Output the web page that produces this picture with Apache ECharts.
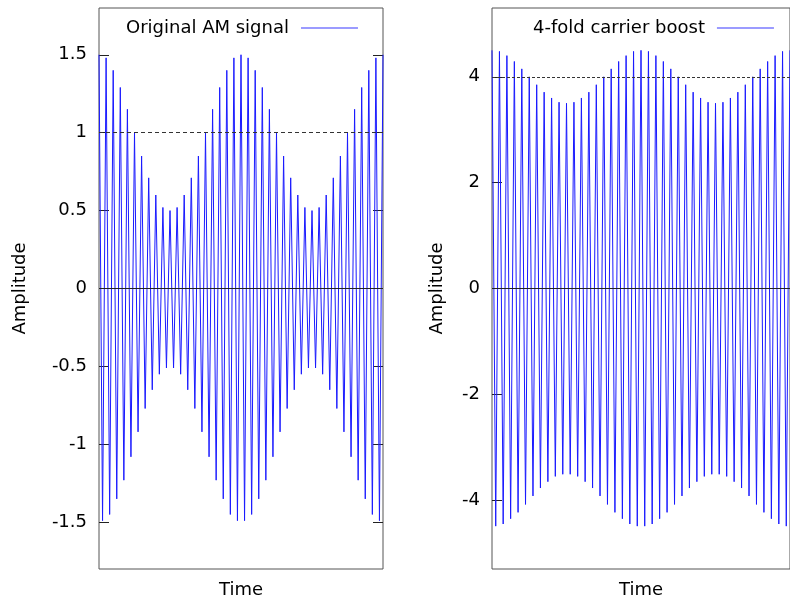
<!DOCTYPE html>
<html>
<head>
<meta charset="utf-8">
<script src="https://cdn.jsdelivr.net/npm/echarts@6/dist/echarts.min.js"></script>
<style>
  html, body { margin: 0; padding: 0; background: #fff; }
  #chart { width: 790px; height: 604px; }
</style>
</head>
<body>
<div id="chart"></div>
<script>
// Successive carrier extremes (peak, trough, peak, ...)
const amSignal = [
  1.50, -1.49, 1.48, -1.45, 1.40, -1.35, 1.29, -1.23, 1.15, -1.08,
  1.00, -0.92, 0.85, -0.77, 0.71, -0.65, 0.60, -0.55, 0.52, -0.51,
  0.50, -0.51, 0.52, -0.55, 0.60, -0.65, 0.71, -0.77, 0.85, -0.92,
  1.00, -1.08, 1.15, -1.23, 1.29, -1.35, 1.40, -1.45, 1.48, -1.49,
  1.50, -1.49, 1.48, -1.45, 1.40, -1.35, 1.29, -1.23, 1.15, -1.08,
  1.00, -0.92, 0.85, -0.77, 0.71, -0.65, 0.60, -0.55, 0.52, -0.51,
  0.50, -0.51, 0.52, -0.55, 0.60, -0.65, 0.71, -0.77, 0.85, -0.92,
  1.00, -1.08, 1.15, -1.23, 1.29, -1.35, 1.40, -1.45, 1.48, -1.49,
  1.50
];
// Successive carrier extremes
const boostSignal = [
  4.50, -4.49, 4.48, -4.45, 4.40, -4.35, 4.29, -4.23, 4.15, -4.08,
  4.00, -3.92, 3.85, -3.77, 3.71, -3.65, 3.60, -3.55, 3.52, -3.51,
  3.50, -3.51, 3.52, -3.55, 3.60, -3.65, 3.71, -3.77, 3.85, -3.92,
  4.00, -4.08, 4.15, -4.23, 4.29, -4.35, 4.40, -4.45, 4.48, -4.49,
  4.50, -4.49, 4.48, -4.45, 4.40, -4.35, 4.29, -4.23, 4.15, -4.08,
  4.00, -3.92, 3.85, -3.77, 3.71, -3.65, 3.60, -3.55, 3.52, -3.51,
  3.50, -3.51, 3.52, -3.55, 3.60, -3.65, 3.71, -3.77, 3.85, -3.92,
  4.00, -4.08, 4.15, -4.23, 4.29, -4.35, 4.40, -4.45, 4.48, -4.49,
  4.50
];
const leftTicks = [-1.5, -1, -0.5, 0, 0.5, 1, 1.5];
const rightTicks = [-4, -2, 0, 2, 4];
const leftName = 'Original AM signal';
const rightName = '4-fold carrier boost';
const leftRef = 1;
const rightRef = 4;
const leftRange = [-1.8, 1.8];
const rightRange = [-5.3, 5.3];

const FONT = 'DejaVu Sans';
const TXT = '#000';
const FRAME = '#555';

function yAx(grid, range, ticks, showLabel, pos, nameText, nameGap) {
  return {
    type: 'value', gridIndex: grid, position: pos,
    min: range[0], max: range[1],
    name: nameText, nameLocation: 'middle', nameGap: nameGap, nameRotate: 90,
    nameTextStyle: { fontFamily: FONT, fontSize: 18, color: TXT },
    axisLine: { show: false },
    axisTick: { show: true, inside: true, length: 10, customValues: ticks, lineStyle: { color: '#222', width: 1 } },
    axisLabel: { show: showLabel, customValues: ticks, margin: 12, fontFamily: FONT, fontSize: 18, color: TXT,
                 formatter: v => String(v) },
    splitLine: { show: false }
  };
}
function xAx(grid, n) {
  return {
    type: 'value', gridIndex: grid, min: 0, max: n,
    name: 'Time', nameLocation: 'middle', nameGap: 12,
    nameTextStyle: { fontFamily: FONT, fontSize: 18, color: TXT, verticalAlign: 'top' },
    axisLine: { show: false }, axisTick: { show: false }, axisLabel: { show: false }, splitLine: { show: false }
  };
}
function sig(name, arr, xi, yi, ref, dash) {
  return {
    name: name, type: 'line', xAxisIndex: xi, yAxisIndex: yi,
    data: arr.map((v, i) => [i, v]),
    showSymbol: false, symbol: 'none', color: '#1a1aff',
    lineStyle: { width: 1, color: '#1a1aff' },
    animation: false,
    markLine: {
      silent: true, symbol: 'none', animation: false, label: { show: false },
      data: [
        { yAxis: 0, lineStyle: { type: 'solid', color: '#222', width: 1 } },
        { yAxis: ref, lineStyle: { type: dash, color: '#333', width: 1 } }
      ]
    }
  };
}

const chart = echarts.init(document.getElementById('chart'), null, { renderer: 'canvas' });
chart.setOption({
  animation: false,
  backgroundColor: '#fff',
  grid: [
    { left: 99, top: 8, width: 284, height: 564, show: true, borderColor: FRAME, borderWidth: 1, backgroundColor: 'transparent' },
    { left: 492, top: 8, width: 307, height: 564, show: true, borderColor: FRAME, borderWidth: 1, backgroundColor: 'transparent' }
  ],
  xAxis: [xAx(0, amSignal.length - 1), xAx(1, boostSignal.length - 1)],
  yAxis: [
    yAx(0, leftRange, leftTicks, true, 'left', 'Amplitude', 70),
    yAx(0, leftRange, leftTicks, false, 'right', '', 0),
    yAx(1, rightRange, rightTicks, true, 'left', 'Amplitude', 46)
  ],
  legend: [
    { data: [{ name: leftName, itemStyle: { color: '#7a7aff' } }], left: 126, top: 19, padding: 0, align: 'right', icon: 'rect',
      itemWidth: 57, itemHeight: 1.5, selectedMode: false,
      textStyle: { fontFamily: FONT, fontSize: 18, color: TXT, lineHeight: 18, padding: [0, 7, 0, 0] } },
    { data: [{ name: rightName, itemStyle: { color: '#7a7aff' } }], left: 533, top: 19, padding: 0, align: 'right', icon: 'rect',
      itemWidth: 57, itemHeight: 1.5, selectedMode: false,
      textStyle: { fontFamily: FONT, fontSize: 18, color: TXT, lineHeight: 18, padding: [0, 7, 0, 0] } }
  ],
  series: [
    sig(leftName, amSignal, 0, 0, leftRef, [4, 3]),
    sig(rightName, boostSignal, 1, 2, rightRef, [3, 2])
  ]
});
</script>
</body>
</html>
